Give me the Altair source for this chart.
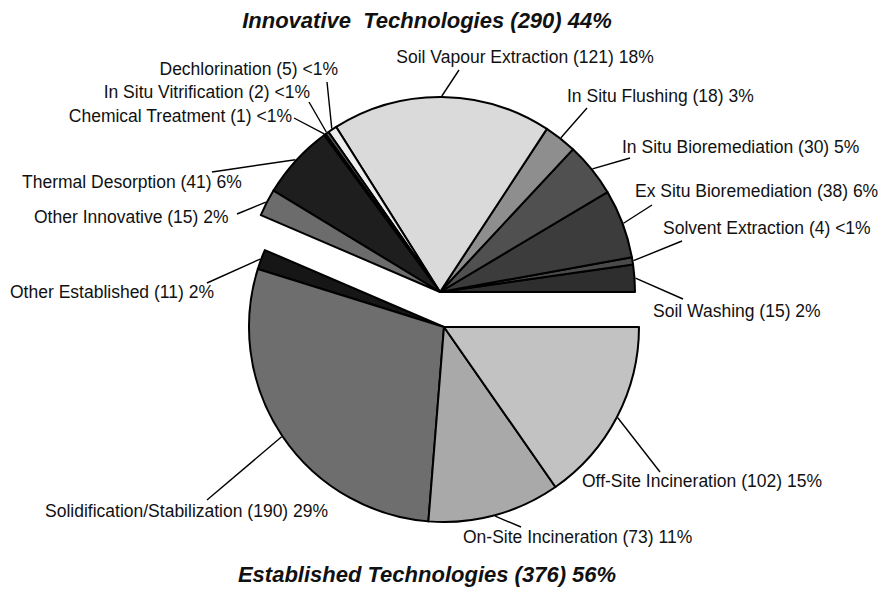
import math
import altair as alt
import pandas as pd

# ---------------- data ----------------
innov_names = ["Soil Washing", "Solvent Extraction", "Ex Situ Bioremediation",
               "In Situ Bioremediation", "In Situ Flushing", "Soil Vapour Extraction",
               "Dechlorination", "In Situ Vitrification", "Chemical Treatment",
               "Thermal Desorption", "Other Innovative"]
innov_counts = [15, 4, 38, 30, 18, 121, 5, 2, 1, 41, 15]
innov_pct = ["2%", "<1%", "6%", "5%", "3%", "18%", "<1%", "<1%", "<1%", "6%", "2%"]

estab_names = ["Other Established", "Solidification/Stabilization",
               "On-Site Incineration", "Off-Site Incineration"]
estab_counts = [11, 190, 73, 102]
estab_pct = ["2%", "29%", "11%", "15%"]

group_titles = ["Innovative\u00a0\u00a0Technologies (290) 44%", "Established Technologies (376) 56%"]

# ---------------- style / layout ----------------
innov_fills = ["#2e2e2e", "#4a4a4a", "#3c3c3c", "#505050", "#8e8e8e", "#dadada",
               "#eeeeee", "#555555", "#dddddd", "#1e1e1e", "#6c6c6c"]
estab_fills = ["#161616", "#6e6e6e", "#a9a9a9", "#c2c2c2"]

OFF = 8          # page margin
R = 195          # pie radius
centers = {"innov": (440, 292), "estab": (444, 327)}   # page coords

# label layout (page coords): text x, text y, align, leader end x, leader end y
innov_layout = [
    (653, 312, "left", 683, 299),
    (663, 229, "left", 682, 241),
    (635, 192, "left", 652, 205),
    (622, 148, "left", 630, 158),
    (567, 97, "left", 587, 108),
    (525, 58, "center", 459, 70),
    (338, 70, "right", 327, 82),
    (310, 93, "right", 309, 102),
    (292, 117, "right", 294, 118),
    (22, 183, "left", 212, 172),
    (34, 218, "left", 237, 214),
]
estab_layout = [
    (10, 293, "left", 207, 283),
    (45, 512, "left", 207, 500),
    (463, 538, "left", 521, 527),
    (582, 482, "left", 660, 472),
]
title_layout = [(427, 21), (427, 575)]

FONT = "Liberation Sans, Arial, Helvetica, sans-serif"
TOTAL = sum(innov_counts) + sum(estab_counts)

# ---------------- build table ----------------
rows = []
cum = 0
for grp, names, counts, pcts, fills, layout in [
    ("innov", innov_names, innov_counts, innov_pct, innov_fills, innov_layout),
    ("estab", estab_names, estab_counts, estab_pct, estab_fills, estab_layout),
]:
    cx, cy = centers[grp]
    for n, c, p, f, lay in zip(names, counts, pcts, fills, layout):
        start, end = cum, cum + c
        cum = end
        mid = (start + end) / 2 / TOTAL * 2 * math.pi   # math angle, CCW from east
        tx, ty, al, lx, ly = lay
        rows.append(dict(
            name=n, count=c, start=start, end=end, fill=f, grp=grp,
            cx=cx - OFF, cy=cy - OFF,
            ax=cx + (R + 1) * math.cos(mid) - OFF,
            ay=cy - (R + 1) * math.sin(mid) - OFF,
            lx=lx - OFF, ly=ly - OFF,
            tx=tx - OFF, ty=ty - OFF, align=al,
            label=f"{n} ({c}) {p}",
        ))
df = pd.DataFrame(rows)

titles_df = pd.DataFrame({
    "text": group_titles,
    "x": [t[0] - OFF for t in title_layout],
    "y": [t[1] - OFF for t in title_layout],
})

base = alt.Chart(df)

arcs = base.mark_arc(outerRadius=R, stroke="black", strokeWidth=2, strokeJoin="round").encode(
    x=alt.X("cx:Q", scale=None, axis=None),
    y=alt.Y("cy:Q", scale=None, axis=None),
    theta=alt.Theta("start:Q", stack=None,
                    scale=alt.Scale(domain=[0, TOTAL], range=[2.5 * math.pi, 0.5 * math.pi])),
    theta2="end:Q",
    fill=alt.Fill("fill:N", scale=None),
)

leaders = base.mark_rule(color="black", strokeWidth=1.4).encode(
    x=alt.X("ax:Q", scale=None, axis=None),
    y=alt.Y("ay:Q", scale=None, axis=None),
    x2="lx:Q",
    y2="ly:Q",
)

def label_layer(al):
    return base.transform_filter(alt.datum.align == al).mark_text(
        align=al, baseline="middle", font=FONT, fontSize=17.5, color="#111"
    ).encode(
        x=alt.X("tx:Q", scale=None, axis=None),
        y=alt.Y("ty:Q", scale=None, axis=None),
        text="label:N",
    )

titles = alt.Chart(titles_df).mark_text(
    align="center", baseline="middle", font=FONT, fontSize=22,
    fontWeight="bold", fontStyle="italic", color="#111"
).encode(
    x=alt.X("x:Q", scale=None, axis=None),
    y=alt.Y("y:Q", scale=None, axis=None),
    text="text:N",
)

chart = alt.layer(
    arcs, leaders, label_layer("left"), label_layer("right"), label_layer("center"), titles
).properties(
    width=872, height=580, padding=0, autosize=alt.AutoSizeParams(type="none"),
    background="white",
).configure_view(stroke=None)

chart.save("out.html", embed_options={"renderer": "svg", "actions": False})
